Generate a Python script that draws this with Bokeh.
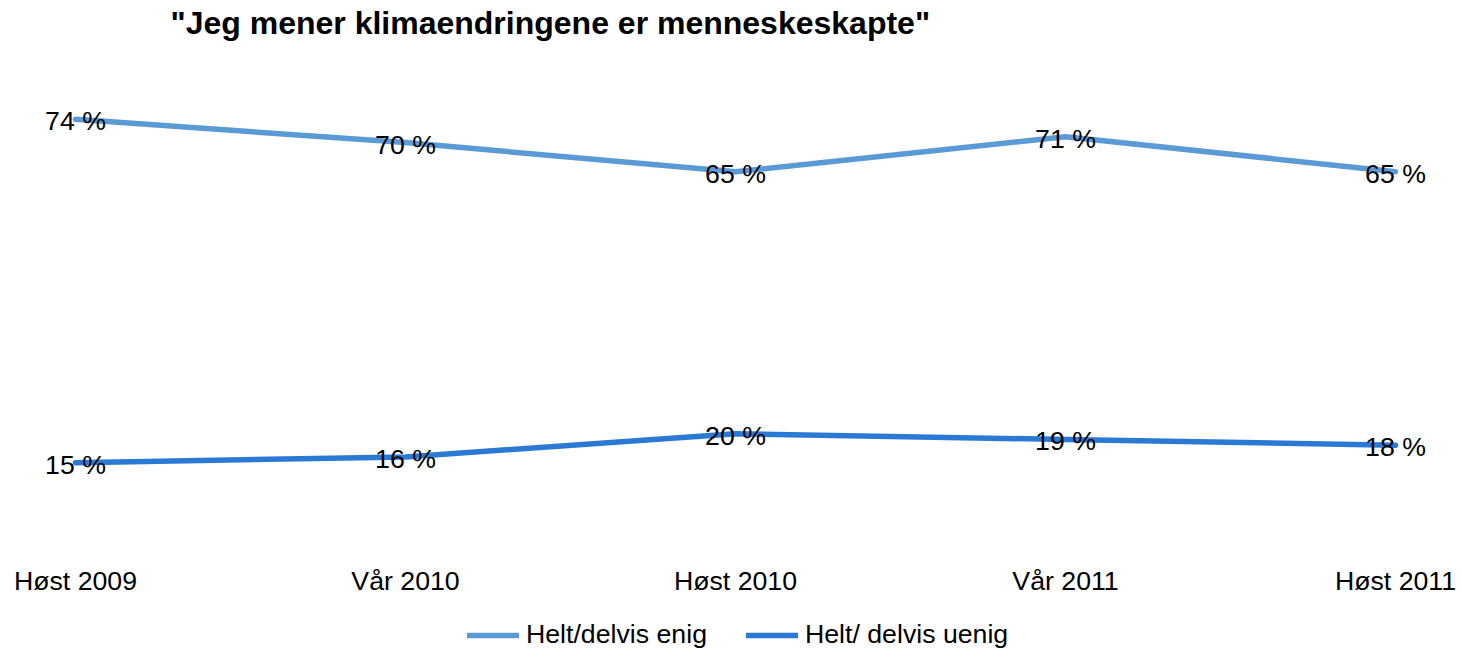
from bokeh.plotting import figure
from bokeh.models import Range1d, FixedTicker, Legend, LegendItem, ColumnDataSource, Label
from bokeh.core.properties import value
from bokeh.embed import file_html
from bokeh.resources import INLINE

periods = ["Høst 2009", "Vår 2010", "Høst 2010", "Vår 2011", "Høst 2011"]
enig = [74, 70, 65, 71, 65]
uenig = [15, 16, 20, 19, 18]
series_names = ["Helt/delvis enig", "Helt/ delvis uenig"]
title_text = '"Jeg mener klimaendringene er menneskeskapte"'

FONT = "Liberation Sans"
FS = "26.7px"
C_LIGHT = "#5B9BD5"
C_DARK = "#2A7AD5"

xs = list(range(len(periods)))

p = figure(width=1462, height=650, output_backend="svg", toolbar_location=None,
           x_range=Range1d(-0.2273, 4.203), y_range=Range1d(-17.25, 94.41),
           min_border_left=0, min_border_right=0, min_border_top=0, min_border_bottom=0)

p.outline_line_color = None
p.xgrid.visible = False
p.ygrid.visible = False
p.yaxis.visible = False

ax = p.xaxis[0]
ax.fixed_location = -1.81
ax.ticker = FixedTicker(ticks=xs)
ax.major_label_overrides = {i: lab for i, lab in enumerate(periods)}
ax.axis_line_color = None
ax.major_tick_line_color = None
ax.minor_tick_line_color = None
ax.major_tick_out = 0
ax.major_tick_in = 0
ax.minor_tick_out = 0
ax.minor_tick_in = 0
ax.major_label_standoff = 5
ax.major_label_text_font = FONT
ax.major_label_text_font_size = FS
ax.major_label_text_color = "black"

title = Label(x=170, y=628, x_units="screen", y_units="screen", text=title_text,
              text_font=FONT, text_font_style="bold", text_font_size="32px",
              text_baseline="middle", text_align="left", text_color="black")
p.add_layout(title)

src = ColumnDataSource(dict(x=xs, enig=enig, uenig=uenig,
                            enig_lab=[f"{v} %" for v in enig],
                            uenig_lab=[f"{v} %" for v in uenig]))

r1 = p.line("x", "enig", source=src, line_color=C_LIGHT, line_width=5.5, line_cap="round", line_join="round")
r2 = p.line("x", "uenig", source=src, line_color=C_DARK, line_width=5.5, line_cap="round", line_join="round")

for col in ["enig_lab", "uenig_lab"]:
    ycol = col.replace("_lab", "")
    p.text("x", ycol, text=col, source=src, text_font=value(FONT), text_font_size=FS,
           text_align="center", text_baseline="middle", text_color="black", y_offset=2)

legend = Legend(items=[LegendItem(label=series_names[0], renderers=[r1]),
                       LegendItem(label=series_names[1], renderers=[r2])],
                orientation="horizontal", location=(467, 0),
                padding=0, margin=0, spacing=39, label_standoff=7,
                glyph_width=52, glyph_height=30,
                label_text_font=FONT, label_text_font_size=FS, label_text_color="black",
                background_fill_alpha=0, border_line_color=None)
p.add_layout(legend, "center")

open("out.html", "w").write(file_html(p, INLINE))
